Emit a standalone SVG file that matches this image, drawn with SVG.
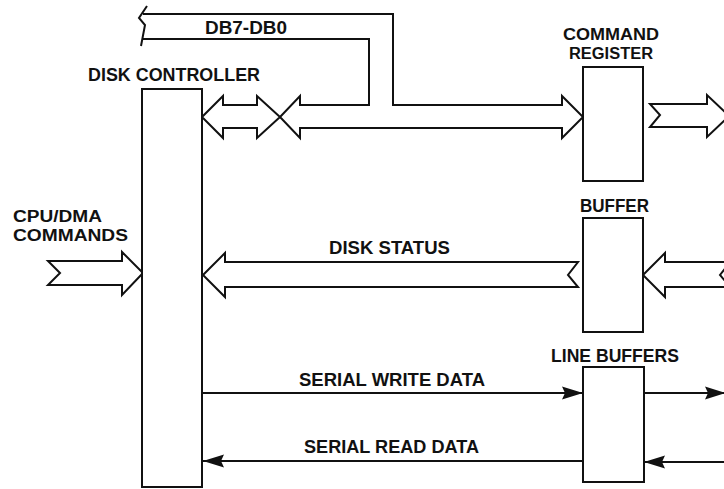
<svg xmlns="http://www.w3.org/2000/svg" width="724" height="489" viewBox="0 0 724 489">
<style>
text{font-family:"Liberation Sans",Arial,sans-serif;font-weight:bold;font-size:17.5px;fill:#111}
text.stk{font-size:16px}
.box{fill:#fff;stroke:#111;stroke-width:2}
.bus{fill:#fff;stroke:#111;stroke-width:2;stroke-linejoin:miter}
.wire{fill:none;stroke:#111;stroke-width:2}
</style>
<defs>
<marker id="ah" markerUnits="userSpaceOnUse" markerWidth="24" markerHeight="16" refX="21" refY="8" orient="auto">
<path d="M0,1.5 L21,8 L0,14.5 L3,8 Z" fill="#111"/>
</marker>
</defs>
<rect width="724" height="489" fill="#fff"/>

<g id="connectors">
<!-- DB7-DB0 bus -->
<path class="bus" d="M143,39 L369,39 L369,105 L300,105 L300,96 L280,117 L300,138 L300,128 L562,128 L562,138 L583,117 L562,96 L562,105 L393,105 L393,14 L143,14"/>
<path class="wire" d="M147,6 L139,18 L145,25 L141,46"/>
<!-- disk controller side double arrow -->
<path class="bus" d="M202,117 L223,96 L223,105 L257,105 L257,96 L280,117 L257,138 L257,128 L223,128 L223,138 Z"/>
<!-- command register output -->
<path class="bus" d="M650,104 L707,104 L707,95 L729,116 L707,137 L707,127 L650,127 L660,115 Z"/>
<!-- CPU/DMA commands -->
<path class="bus" d="M48,261 L122,261 L122,252 L143,273 L122,295 L122,285 L48,285 L60,273 Z"/>
<!-- disk status -->
<path class="bus" d="M203,275 L225,253 L225,262 L578,262 L568,275 L578,287 L225,287 L225,297 Z"/>
<!-- input to buffer -->
<path class="bus" d="M643,275 L665,253 L665,262 L730,262 L720,275 L730,287 L665,287 L665,297 Z"/>
<!-- serial lines -->
<line class="wire" x1="203" y1="393" x2="583" y2="393" marker-end="url(#ah)"/>
<line class="wire" x1="644" y1="393" x2="726" y2="393" marker-end="url(#ah)"/>
<line class="wire" x1="583" y1="461" x2="203" y2="461" marker-end="url(#ah)"/>
<line class="wire" x1="726" y1="462" x2="644" y2="462" marker-end="url(#ah)"/>
</g>

<g id="disk-controller">
<rect class="box" x="142" y="89" width="60" height="398"/>
<text x="88" y="81" textLength="172" lengthAdjust="spacingAndGlyphs">DISK CONTROLLER</text>
</g>
<g id="command-register">
<rect class="box" x="583" y="67" width="60" height="114"/>
<text class="stk" x="563" y="40" textLength="96" lengthAdjust="spacingAndGlyphs">COMMAND</text>
<text class="stk" x="569" y="59" textLength="84" lengthAdjust="spacingAndGlyphs">REGISTER</text>
</g>
<g id="buffer">
<rect class="box" x="583" y="218" width="60" height="114"/>
<text x="580" y="212" textLength="69" lengthAdjust="spacingAndGlyphs">BUFFER</text>
</g>
<g id="line-buffers">
<rect class="box" x="583" y="367" width="61" height="115"/>
<text x="551" y="362" textLength="128" lengthAdjust="spacingAndGlyphs">LINE BUFFERS</text>
</g>

<g id="labels">
<text x="205" y="34" textLength="82" lengthAdjust="spacingAndGlyphs">DB7-DB0</text>
<text class="stk" x="13" y="222" textLength="89" lengthAdjust="spacingAndGlyphs">CPU/DMA</text>
<text class="stk" x="13" y="241" textLength="115" lengthAdjust="spacingAndGlyphs">COMMANDS</text>
<text x="329" y="254" textLength="121" lengthAdjust="spacingAndGlyphs">DISK STATUS</text>
<text x="299" y="386" textLength="186" lengthAdjust="spacingAndGlyphs">SERIAL WRITE DATA</text>
<text x="304" y="453" textLength="175" lengthAdjust="spacingAndGlyphs">SERIAL READ DATA</text>
</g>
</svg>
